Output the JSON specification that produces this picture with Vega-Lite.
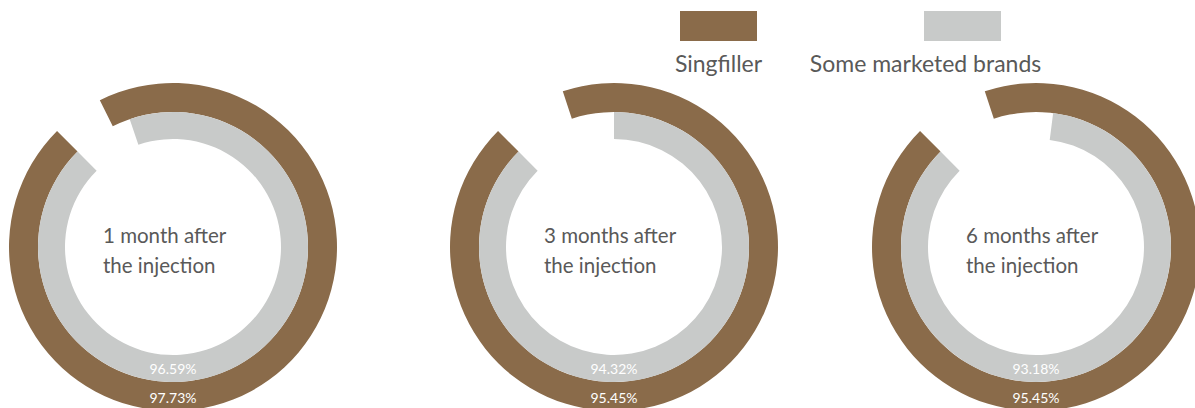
{
  "$schema": "https://vega.github.io/schema/vega-lite/v6.json",
  "width": 1195,
  "height": 494,
  "padding": 0,
  "autosize": {"type": "none"},
  "background": "white",
  "config": {"view": {"stroke": null}},
  "data": {
    "values": [
      {"month": 1, "period": "1 month after\nthe injection", "series": "Singfiller", "rate": 0.9773},
      {"month": 1, "period": "1 month after\nthe injection", "series": "Some marketed brands", "rate": 0.9659},
      {"month": 3, "period": "3 months after\nthe injection", "series": "Singfiller", "rate": 0.9545},
      {"month": 3, "period": "3 months after\nthe injection", "series": "Some marketed brands", "rate": 0.9432},
      {"month": 6, "period": "6 months after\nthe injection", "series": "Singfiller", "rate": 0.9545},
      {"month": 6, "period": "6 months after\nthe injection", "series": "Some marketed brands", "rate": 0.9318}
    ]
  },
  "encoding": {
    "x": {"field": "month", "type": "quantitative", "axis": null, "stack": null,
          "scale": {"domain": [1, 3, 6], "range": [173, 614, 1036], "zero": false, "nice": false}}
  },
  "layer": [
    {
      "transform": [{"filter": "datum.series === 'Singfiller'"}],
      "mark": {"type": "arc", "radius": 164, "radius2": 135},
      "encoding": {
        "theta": {"field": "rate", "type": "quantitative", "stack": null,
                  "scale": {"domain": [0.9545, 0.9773], "range": [-0.3176, -0.4625], "zero": false, "nice": false}},
        "theta2": {"value": 5.4978},
        "color": {
          "field": "series", "type": "nominal",
          "scale": {"domain": ["Singfiller", "Some marketed brands"], "range": ["#8A6B4A", "#C8CAC9"]},
          "legend": {
            "orient": "none", "legendX": 680, "legendY": -12.5, "direction": "horizontal", "title": null,
            "symbolType": "M-1,-0.39H1V0.39H-1Z", "symbolSize": 5929, "symbolStrokeWidth": 0, "symbolOpacity": 1,
            "labelFont": "Lato", "labelFontSize": 23, "labelColor": "#595959", "labelAlign": "center",
            "labelOffset": -38.5, "labelBaseline": "alphabetic", "labelLimit": 400, "columnPadding": 46,
            "encode": {"labels": {"update": {"dy": {"value": 45.5}, "dx": {"signal": "datum.value === 'Some marketed brands' ? -37 : 0"}}}}
          }
        }
      }
    },
    {
      "transform": [{"filter": "datum.series === 'Some marketed brands'"}],
      "mark": {"type": "arc", "radius": 135, "radius2": 108},
      "encoding": {
        "theta": {"field": "rate", "type": "quantitative", "stack": null,
                  "scale": {"domain": [0.9318, 0.9432, 0.9659], "range": [0.1274, 0, -0.3264], "zero": false, "nice": false}},
        "theta2": {"value": 5.4978},
        "color": {"field": "series", "type": "nominal"}
      }
    },
    {
      "transform": [{"filter": "datum.series === 'Singfiller'"}],
      "mark": {"type": "text", "align": "left", "baseline": "alphabetic", "dx": -70, "dy": -4,
               "font": "Lato", "fontSize": 20.5, "color": "#595959", "lineBreak": "\n", "lineHeight": 29.5},
      "encoding": {"text": {"field": "period"}}
    },
    {
      "transform": [{"filter": "datum.series === 'Singfiller'"}],
      "mark": {"type": "text", "align": "center", "baseline": "alphabetic", "dy": 155.7,
               "font": "Lato", "fontSize": 14, "color": "white"},
      "encoding": {"text": {"field": "rate", "format": ".2%"}}
    },
    {
      "transform": [{"filter": "datum.series === 'Some marketed brands'"}],
      "mark": {"type": "text", "align": "center", "baseline": "alphabetic", "dy": 127.3,
               "font": "Lato", "fontSize": 14, "color": "white"},
      "encoding": {"text": {"field": "rate", "format": ".2%"}}
    }
  ],
  "resolve": {"scale": {"theta": "independent"}}
}
